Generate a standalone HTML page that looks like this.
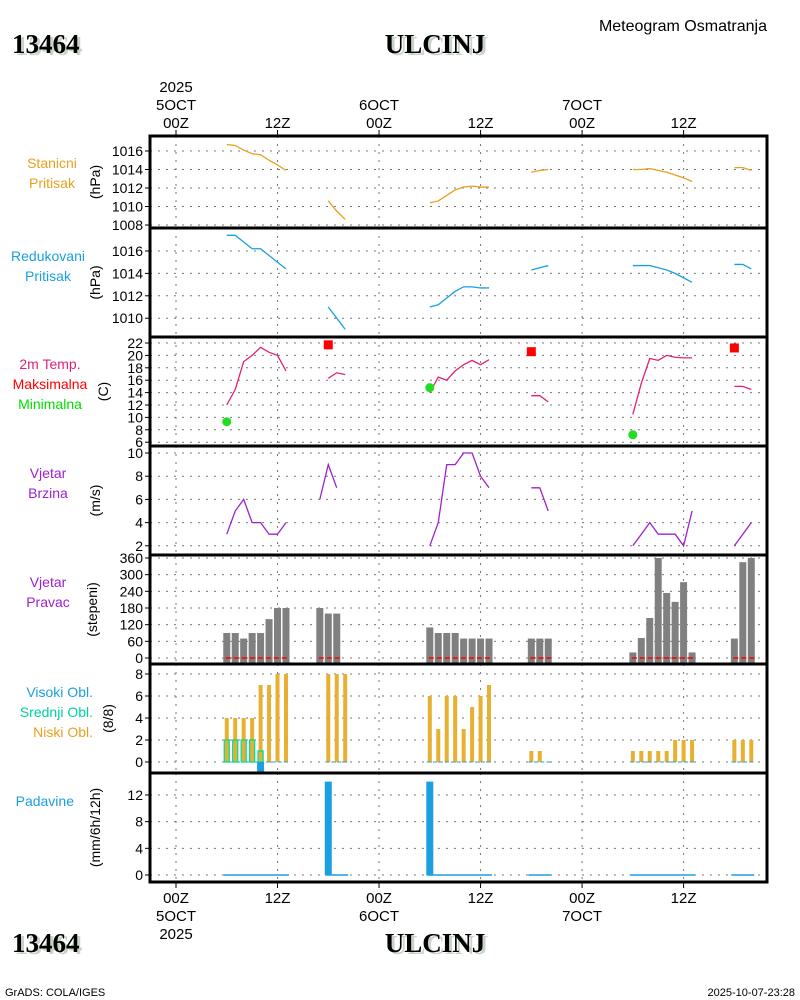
<!DOCTYPE html>
<html><head><meta charset="utf-8">
<style>
html,body{margin:0;padding:0;background:#fff;width:800px;height:1000px;overflow:hidden}
svg{display:block;font-family:"Liberation Sans",sans-serif}
</style></head>
<body>
<svg id="chart" width="800" height="1000" xmlns="http://www.w3.org/2000/svg">
<g id="static">
<text x="15" y="55" font-family="Liberation Serif,serif" font-weight="bold" font-size="27" fill="#c8d4c8">13464</text>
<text x="12" y="53" font-family="Liberation Serif,serif" font-weight="bold" font-size="27" fill="#000">13464</text>
<text x="438" y="55" text-anchor="middle" font-family="Liberation Serif,serif" font-weight="bold" font-size="27" fill="#c8d4c8">ULCINJ</text>
<text x="435" y="53" text-anchor="middle" font-family="Liberation Serif,serif" font-weight="bold" font-size="27" fill="#000">ULCINJ</text>
<text x="767" y="31" text-anchor="end" font-size="16" fill="#000">Meteogram Osmatranja</text>
<text x="15" y="954" font-family="Liberation Serif,serif" font-weight="bold" font-size="27" fill="#c8d4c8">13464</text>
<text x="12" y="952" font-family="Liberation Serif,serif" font-weight="bold" font-size="27" fill="#000">13464</text>
<text x="438" y="954" text-anchor="middle" font-family="Liberation Serif,serif" font-weight="bold" font-size="27" fill="#c8d4c8">ULCINJ</text>
<text x="435" y="952" text-anchor="middle" font-family="Liberation Serif,serif" font-weight="bold" font-size="27" fill="#000">ULCINJ</text>
<text x="5" y="996" font-size="11" fill="#000">GrADS: COLA/IGES</text>
<text x="795" y="996" text-anchor="end" font-size="11" fill="#000">2025-10-07-23:28</text>
</g>
<g id="grid"></g>
<g id="marks"></g>
<g id="frame"></g>
</svg>
<script>
// hours relative to 2025-10-05 00Z
const grpHours = [[6,7,8,9,10,11,12,13],[18,19,20],[30,31,32,33,34,35,36,37],[42,43,44],[54,55,56,57,58,59,60,61],[66,67,68]];
const stationP = [[1016.7,1016.6,1016.1,1015.7,1015.6,1015.0,1014.5,1013.9],[1010.6,1009.5,1008.6],[1010.4,1010.6,1011.2,1011.8,1012.1,1012.2,1012.1,1012.1],[1013.7,1013.9,1014.0],[1014.0,1014.0,1014.1,1013.9,1013.7,1013.4,1013.1,1012.7],[1014.2,1014.2,1013.9]];
const reducedP = [[1017.4,1017.4,1016.8,1016.2,1016.2,1015.6,1015.0,1014.4],[1011.0,1010.0,1009.0],[1011.0,1011.2,1011.8,1012.4,1012.8,1012.8,1012.7,1012.7],[1014.3,1014.5,1014.7],[1014.7,1014.7,1014.7,1014.5,1014.3,1014.0,1013.6,1013.2],[1014.8,1014.8,1014.4]];
const temp = [[12,14.5,19,20,21.3,20.5,20,17.5],[16.3,17.2,16.9],[14,16.5,16,17.5,18.5,19.2,18.5,19.3],[13.5,13.5,12.5],[10.5,15.5,19.5,19.2,20,19.7,19.6,19.6],[15,15,14.5]];
const maxHours = [18,42,66];
const maxTemp = [21.7,20.6,21.2];
const minHours = [6,30,54];
const minTemp = [9.3,14.8,7.2];
const windHoursG = [[6,7,8,9,10,11,12,13],[17,18,19],[30,31,32,33,34,35,36,37],[42,43,44],[54,55,56,57,58,59,60,61],[66,67,68]];
const windSpeed = [[3,5,6,4,4,3,3,4],[6,9,7],[2,4,9,9,10,10,8,7],[7,7,5],[2,3,4,3,3,3,2,5],[2,3,4]];
const windDir = [[90,90,70,90,90,140,180,180],[180,160,160],[110,90,90,90,70,70,70,70],[70,70,70],[20,72,144,360,234,202,273,20],[70,345,360]];
const lowCloud = [[4,4,4,4,7,7,8,8],[8,8,8],[6,3,6,6,3,5,6,7],[1,1,0],[1,1,1,1,1,2,2,2],[2,2,2]];
const midHours = [6,7,8,9,10];
const midCloud = [2,2,2,2,1];
const highHours = [10];
const highCloud = [-1];
const precipHours = [18,30];
const precip = [14,14];
const wdTicks = [0,60,120,180,240,300,360];

const X = h => 176 + h*8.46;
const panels = [
 {top:136,bot:228,y:v=>151+(1016-v)*9.25,ticks:[1016,1014,1012,1010,1008],unit:'(hPa)',ux:100,labels:[['Stanicni','#e8a020'],['Pritisak','#e8a020']],ly:168,lx:52,anc:'middle'},
 {top:228,bot:337,y:v=>251+(1016-v)*11.2,ticks:[1016,1014,1012,1010],unit:'(hPa)',ux:100,labels:[['Redukovani','#1aa0e0'],['Pritisak','#1aa0e0']],ly:261,lx:48,anc:'middle'},
 {top:337,bot:446,y:v=>343+(22-v)*6.2,ticks:[22,20,18,16,14,12,10,8,6],unit:'(C)',ux:108,labels:[['2m Temp.','#e0207a'],['Maksimalna','#ff0000'],['Minimalna','#00dd00']],ly:369,lx:50,anc:'middle'},
 {top:446,bot:555,y:v=>453+(10-v)*11.6,ticks:[10,8,6,4,2],unit:'(m/s)',ux:100,labels:[['Vjetar','#a020d0'],['Brzina','#a020d0']],ly:478,lx:48,anc:'middle'},
 {top:555,bot:664,y:v=>658-v*0.2778,ticks:wdTicks,unit:'(stepeni)',ux:97,labels:[['Vjetar','#a020d0'],['Pravac','#a020d0']],ly:587,lx:48,anc:'middle'},
 {top:664,bot:773,y:v=>762-v*11,ticks:[8,6,4,2,0],unit:'(8/8)',ux:113,labels:[['Visoki Obl.','#1aa0e0'],['Srednji Obl.','#00d0a0'],['Niski Obl.','#e8a020']],ly:697,lx:93,anc:'end'},
 {top:773,bot:882,y:v=>875-v*6.67,ticks:[12,8,4,0],unit:'(mm/6h/12h)',ux:100,labels:[['Padavine','#1aa0e0']],ly:806,lx:74,anc:'end'}
];
const NS='http://www.w3.org/2000/svg';
function mk(parent,tag,attrs){const e=document.createElementNS(NS,tag);for(const k in attrs)e.setAttribute(k,attrs[k]);parent.appendChild(e);return e;}
const grid=document.getElementById('grid'),marks=document.getElementById('marks'),frame=document.getElementById('frame');
const L=150,R=767;
const vHours=[0,12,24,36,48,60];
panels.forEach((p,i)=>{
  vHours.forEach(h=>{const l=mk(grid,'line',{x1:X(h),x2:X(h),y1:p.top,y2:p.bot,stroke:'#777','stroke-dasharray':'2,6'});
    
    });
  p.ticks.forEach(t=>{const y=p.y(t);
    const g=mk(grid,'line',{x1:L,x2:R,y1:y,y2:y,stroke:'#777','stroke-dasharray':'2,6'});
    
    
    mk(frame,'line',{x1:L-5,x2:L,y1:y,y2:y,stroke:'#000'});
    const tx=mk(frame,'text',{x:L-7,y:y+5,'text-anchor':'end','font-size':'14',fill:'#000'});
    tx.textContent=t;
    
    });
  const u=mk(frame,'text',{x:0,y:0,'text-anchor':'middle','font-size':'14',fill:'#000',transform:`translate(${p.ux},${(p.top+p.bot)/2}) rotate(-90)`});
  u.textContent=p.unit;
  
  
  p.labels.forEach((lb,j)=>{const t=mk(frame,'text',{x:p.lx,y:p.ly+j*20,'text-anchor':p.anc,'font-size':'14',fill:lb[1]});
    t.textContent=lb[0];
    
    });
  const r=mk(frame,'rect',{x:L,y:p.top,width:R-L,height:p.bot-p.top,fill:'none',stroke:'#000','stroke-width':3});
  
  
});
const topL=[[0,['2025','5OCT','00Z']],[12,['12Z']],[24,['6OCT','00Z']],[36,['12Z']],[48,['7OCT','00Z']],[60,['12Z']]];
topL.forEach(([h,arr])=>{mk(frame,'line',{x1:X(h),x2:X(h),y1:130,y2:136,stroke:'#000'});
  mk(frame,'line',{x1:X(h),x2:X(h),y1:882,y2:888,stroke:'#000'});
  arr.slice().reverse().forEach((s,k)=>{const t=mk(frame,'text',{x:X(h),y:128-k*18,'text-anchor':'middle','font-size':'15',fill:'#000'});
    t.textContent=s;
    
    });
  arr.slice().reverse().forEach((s,k)=>{const t=mk(frame,'text',{x:X(h),y:903+k*18,'text-anchor':'middle','font-size':'15',fill:'#000'});
    t.textContent=s;
    
    });
});
function lines(p,hrs,vals,color,name){hrs.forEach((hs,g)=>{const pts=hs.map((h,k)=>X(h)+','+p.y(vals[g][k])).join(' ');
  const pl=mk(marks,'polyline',{points:pts,fill:'none',stroke:color,'stroke-width':1.3});
  
  });}
lines(panels[0],grpHours,stationP,'#e8a020','station-pressure-line');
lines(panels[1],grpHours,reducedP,'#1aa0e0','reduced-pressure-line');
lines(panels[2],grpHours,temp,'#e0207a','temperature-line');
lines(panels[3],windHoursG,windSpeed,'#a020d0','wind-speed-line');
maxHours.forEach((h,i)=>{const r=mk(marks,'rect',{x:X(h)-4.5,y:panels[2].y(maxTemp[i])-4.5,width:9,height:9,fill:'#ff0000'});
  
  });
minHours.forEach((h,i)=>{const c=mk(marks,'circle',{cx:X(h),cy:panels[2].y(minTemp[i]),r:4.5,fill:'#22dd22'});
  
  });
windHoursG.forEach((hs,g)=>{hs.forEach((h,k)=>{const p=panels[4],y=p.y(windDir[g][k]);
  const r=mk(marks,'rect',{x:X(h)-3.5,y:y,width:7,height:p.bot-y,fill:'#808080'});
  
  });
  const rl=mk(marks,'line',{x1:X(hs[0])-1,x2:X(hs[hs.length-1])+3,y1:658,y2:658,stroke:'#ff0000','stroke-width':1.5,'stroke-dasharray':'5,3'});
  
  });
const pc=panels[5];
grpHours.forEach((hs,g)=>{hs.forEach((h,k)=>{const v=lowCloud[g][k],y=pc.y(v);
  if(v>0){const r=mk(marks,'rect',{x:X(h)-2,y:y,width:4,height:pc.y(0)-y,fill:'#e8b030'});
  
  }});
  const bl=mk(marks,'line',{x1:X(hs[0])-3,x2:X(hs[hs.length-1])+3,y1:pc.y(0),y2:pc.y(0),stroke:'#20a0c0','stroke-width':1,'stroke-dasharray':'4,2'});
  
  });
midHours.forEach((h,i)=>{const y=pc.y(midCloud[i]);
  const r=mk(marks,'rect',{x:X(h)-2.5,y:y,width:5,height:pc.y(0)-y,fill:'none',stroke:'#00dd99','stroke-width':1.3});
  
  });
highHours.forEach((h,i)=>{const y0=pc.y(0),y=pc.y(highCloud[i]);
  const r=mk(marks,'rect',{x:X(h)-3.5,y:Math.min(y0,y),width:7,height:Math.abs(y-y0),fill:'#1aa0e0'});
  
  });
const pp=panels[6];
grpHours.forEach(hs=>{const l=mk(marks,'line',{x1:X(hs[0])-3,x2:X(hs[hs.length-1])+3,y1:pp.y(0),y2:pp.y(0),stroke:'#1aa0e0','stroke-width':1.5});
  
  });
precipHours.forEach((h,i)=>{const y=pp.y(precip[i]);
  const r=mk(marks,'rect',{x:X(h)-3.5,y:y,width:7,height:pp.y(0)-y,fill:'#1aa0e0'});
  
  });
</script>
</body></html>
